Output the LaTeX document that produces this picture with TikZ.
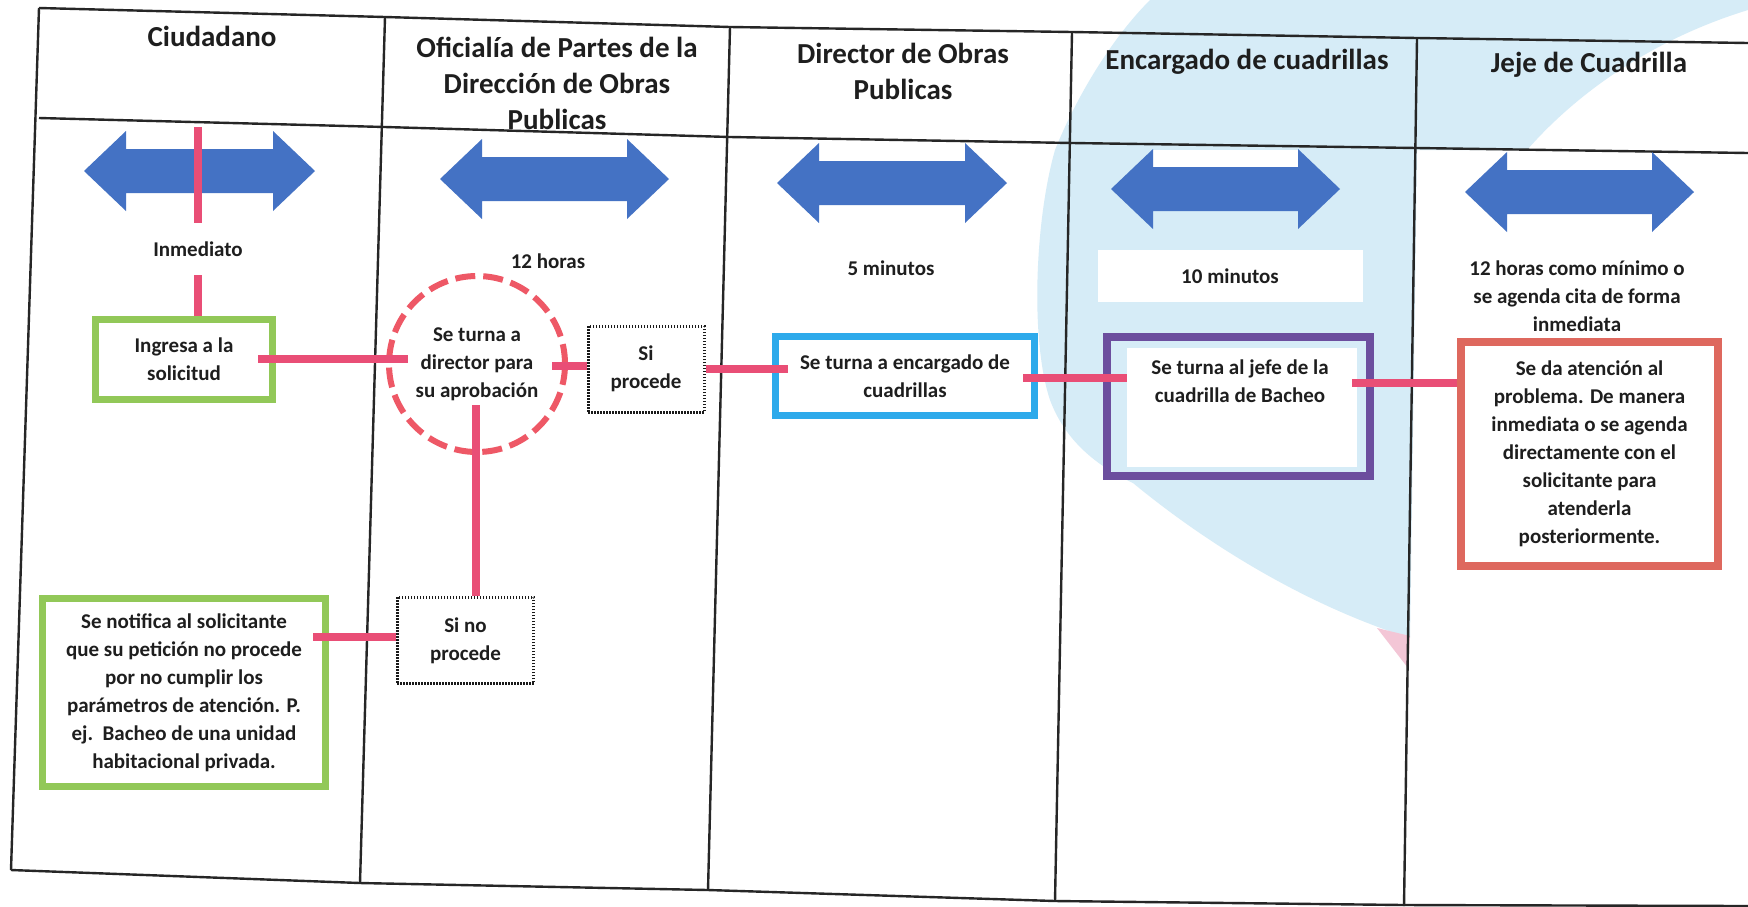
\documentclass[tikz,border=0pt]{standalone}
\usepackage{fontspec}
\setmainfont{Carlito}
\usetikzlibrary{calc}
\definecolor{arrowblue}{RGB}{68,114,196}
\definecolor{connred}{RGB}{233,78,118}
\definecolor{circred}{RGB}{238,88,102}
\definecolor{wmblue}{RGB}{214,236,247}
\definecolor{wmpink}{RGB}{243,198,214}
\definecolor{boxgreen}{RGB}{146,200,88}
\definecolor{boxcyan}{RGB}{45,170,235}
\definecolor{boxpurple}{RGB}{108,78,158}
\definecolor{boxred}{RGB}{222,104,94}
\definecolor{txt}{RGB}{30,30,30}
\tikzset{
 hdr/.style={font=\bfseries\fontsize{14.5}{18}\selectfont, align=center, text=txt, inner sep=0pt},
 body/.style={font=\bfseries\fontsize{10.5}{14}\selectfont, align=center, text=txt},
 tline/.style={line width=1.2pt, black!85},
 conn/.style={line width=4pt, connred},
 colbox/.style={body, rectangle, line width=3.5pt, inner sep=0pt},
 dotbox/.style={body, rectangle, draw=black!90, line width=1.5pt, dash pattern=on 0.75pt off 0.75pt, inner sep=0pt},
}
\newcommand\dblarrow[3]{\fill[arrowblue] (#1,#3) -- ({#1+42},{#3-40}) -- ({#1+42},{#3-22}) -- ({#2-42},{#3-22}) -- ({#2-42},{#3-40}) -- (#2,#3) -- ({#2-42},{#3+40}) -- ({#2-42},{#3+22}) -- ({#1+42},{#3+22}) -- ({#1+42},{#3+40}) -- cycle;}
\begin{document}
\begin{tikzpicture}[x=0.5pt,y=-0.5pt]
\useasboundingbox (0,0) rectangle (1748,906);
\fill[white] (0,0) rectangle (1748,906);
% watermark
\fill[wmblue] (1150,0) .. controls (1110,40) and (1075,100) .. (1055,150) .. controls (1035,220) and (1030,340) .. (1050,400) .. controls (1065,440) and (1095,465) .. (1133,483) .. controls (1190,530) and (1290,600) .. (1410,638) -- (1417,150) -- (1527,150) .. controls (1575,95) and (1650,40) .. (1748,10) -- (1748,0) -- cycle;
\fill[wmpink] (1377,628) -- (1410,636) -- (1408,668) -- cycle;
% table
\draw[tline] (39,8) -- (385,17) -- (730,27) -- (1072,32) -- (1417,38) -- (1748,43);
\draw[tline] (39,118) -- (385,127) -- (730,137) -- (1072,143) -- (1417,148) -- (1748,153);
\draw[tline] (11,870) -- (360,883) -- (708,890) -- (1055,901) -- (1404,905) -- (1748,906);
\draw[tline] (39,8) -- (11,870);
\draw[tline] (385,17) -- (360,883);
\draw[tline] (730,27) -- (708,890);
\draw[tline] (1072,32) -- (1055,901);
\draw[tline] (1417,38) -- (1404,906);
% headers
\node[hdr] (h1) at (212,36) {Ciudadano};
\node[hdr] (h2) at (557,83) {Oficialía de Partes de la\\Dirección de Obras\\Publicas};
\node[hdr] (h3) at (903,71) {Director de Obras\\Publicas};
\node[hdr] (h4) at (1247,62) {Encargado de cuadrillas};
\node[hdr] (h5) at (1589,65) {Jeje de Cuadrilla};
% arrows
\dblarrow{84}{315}{171}
\dblarrow{440}{669}{179}
\dblarrow{777}{1007}{183}
\fill[white] (1153,150) rectangle (1298,168);
\dblarrow{1111}{1340}{189}
\dblarrow{1465}{1694}{192}
% time labels
\node[body, minimum height=26pt, inner sep=0pt] (t1) at (198,249) {Inmediato};
\node[body] (t2) at (548,261) {12 horas};
\node[body] (t3) at (891,268) {5 minutos};
\node[body, fill=white, minimum width=132.5pt, minimum height=26pt, inner sep=0pt] (t4) at (1230,276) {10 minutos};
\node[body] (t5) at (1577,296) {12 horas como mínimo o\\se agenda cita de forma\\inmediata};
% boxes
\node[colbox, draw=boxgreen, minimum width=88.5pt, minimum height=40pt] (g1) at (184,359) {Ingresa a la\\solicitud};
\node[body, circle, draw=circred, line width=3pt, dash pattern=on 10pt off 4pt, minimum size=88pt, inner sep=0pt] (circ) at (477,364) {Se turna a\\director para\\su aprobación};
\node[dotbox, minimum width=58pt, minimum height=43pt] (sip) at (646,369) {Si\\procede};
\node[colbox, draw=boxcyan, minimum width=129.5pt, minimum height=39.5pt] (bbox) at (905,376) {Se turna a encargado de\\cuadrillas};
\node[rectangle, fill=white, minimum width=115pt, minimum height=59.5pt, inner sep=0pt] (pin) at (1242,407.5) {};
\node[rectangle, draw=boxpurple, line width=4pt, minimum width=131.5pt, minimum height=69.5pt, inner sep=0pt] (pbox) at (1238.5,406.5) {};
\node[body] (ptxt) at (1240,381) {Se turna al jefe de la\\cuadrilla de Bacheo};
\node[colbox, draw=boxred, line width=4pt, minimum width=128.5pt, minimum height=112pt] (rbox) at (1589.5,454) {Se da atención al\\problema. De manera\\inmediata o se agenda\\directamente con el\\solicitante para\\atenderla\\posteriormente.};
\node[dotbox, minimum width=68.3pt, minimum height=43.3pt] (snp) at (465.5,640.5) {Si no\\procede};
\node[colbox, draw=boxgreen, minimum width=141.5pt, minimum height=94pt] (g2) at (184,692.5) {Se notifica al solicitante\\que su petición no procede\\por no cumplir los\\parámetros de atención. P.\\ej.\ \ Bacheo de una unidad\\habitacional privada.};
% connectors
\coordinate (c0) at (198,127);
\draw[conn] (c0) -- (t1.north);
\draw[conn] (t1.south) -- (t1.south |- g1.north);
\draw[conn] ($(g1.east)+(-18,0)$) -- ($(g1.east -| circ.west)+(22,0)$);
\draw[conn] ($(circ.east)+(-16,2)$) -- ($(circ.east -| sip.west)+(0,2)$);
\draw[conn] (sip.east) -- ($(sip.east -| bbox.west)+(16,0)$);
\draw[conn] ($(bbox.east)+(-15,2)$) -- ($(bbox.east -| pin.west)+(0,2)$);
\draw[conn] ($(pin.east)+(-5,-25)$) -- ($(pin.east -| rbox.west)+(0,-25)$);
\coordinate (cv) at ($(circ.center)+(-1,41)$);
\draw[conn] (cv) -- (cv |- snp.north);
\draw[conn] ($(snp.west -| g2.east)+(-16,-4)$) -- ($(snp.west)+(0,-4)$);
\end{tikzpicture}
\end{document}
